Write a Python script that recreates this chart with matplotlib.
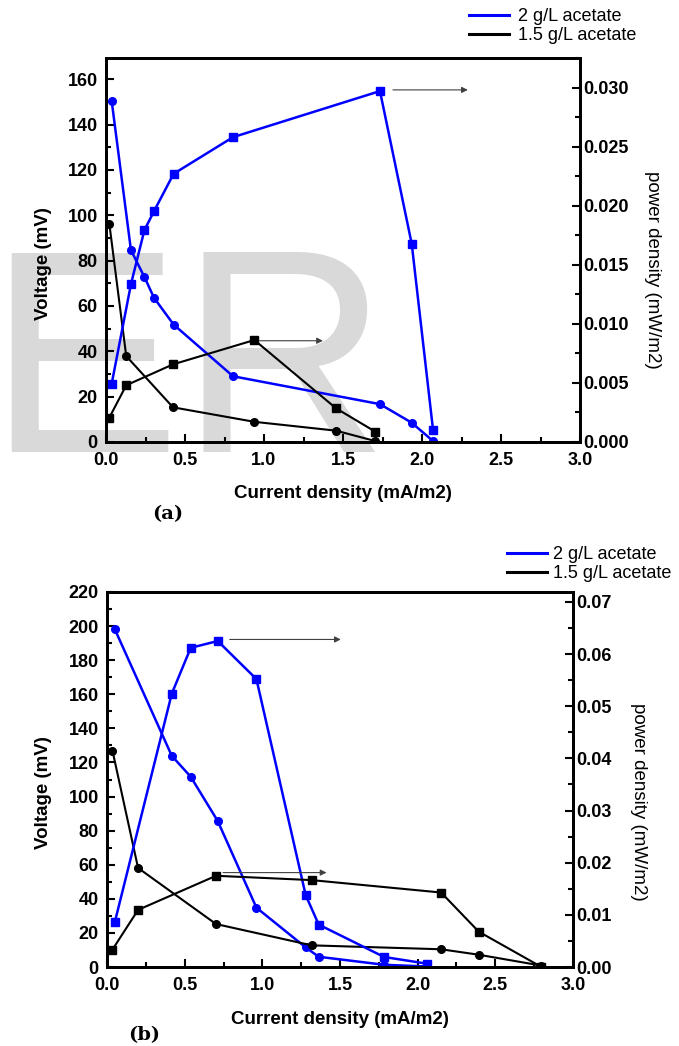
import numpy as np
import matplotlib
matplotlib.use('Agg')
from matplotlib import pyplot as plt
from matplotlib.lines import Line2D
from matplotlib.ticker import MultipleLocator, FormatStrFormatter

plt.rcParams['font.family'] = ['Liberation Sans', 'DejaVu Sans']

# ---- data, panel (a) ----
cd_a_2 = [0.036, 0.158, 0.243, 0.304, 0.428, 0.804, 1.734, 1.935, 2.07]
volt_a_2 = [150.4, 84.6, 72.8, 63.6, 51.8, 29.0, 16.7, 8.5, 0.4]
pow_a_2 = [0.00493, 0.01336, 0.01793, 0.01954, 0.0227, 0.0258, 0.0297, 0.01677, 0.00101]

cd_a_15 = [0.021, 0.128, 0.424, 0.939, 1.456, 1.705]
volt_a_15 = [96.3, 37.9, 15.3, 8.9, 5.0, 0.4]
pow_a_15 = [0.00206, 0.0048, 0.00657, 0.00863, 0.00285, 0.00087]

# ---- data, panel (b) ----
cd_b_2 = [0.05, 0.417, 0.539, 0.713, 0.962, 1.279, 1.363, 1.784, 2.059]
volt_b_2 = [198.2, 123.9, 111.6, 85.6, 34.8, 11.5, 6.0, 1.3, 0.3]
pow_b_2 = [0.00858, 0.0524, 0.0612, 0.0625, 0.0552, 0.01378, 0.00813, 0.00192, 0.00064]

cd_b_15 = [0.035, 0.2, 0.702, 1.318, 2.151, 2.393, 2.797]
volt_b_15 = [127.0, 58.1, 25.2, 12.7, 10.4, 7.2, 0.8]
pow_b_15 = [0.00333, 0.01095, 0.01749, 0.01666, 0.01428, 0.00678, 0.0]

series_labels = ['2 g/L acetate', '1.5 g/L acetate']
xlabel = 'Current density (mA/m2)'
ylabel = 'Voltage (mV)'
y2label = 'power density (mW/m2)'

BLUE = '#0000ff'
W, H = 679, 1046

def fx(px):
    return px / W

def fy(py):
    return 1 - py / H

fig = plt.figure(figsize=(6.79, 10.46), dpi=100)

# watermark behind the top chart
fig.text(fx(-13), fy(452), 'ER', fontsize=208, color='#d9d9d9',
         family='Liberation Sans', ha='left', va='baseline', zorder=-10)


def panel(rect, cd2, v2, p2, cd15, v15, p15, ylim, y2lim, ymaj, y2maj, y2fmt, arrows):
    ax = fig.add_axes(rect)
    ax.set_facecolor('none')
    ax2 = ax.twinx()
    # voltage (circles)
    ax.plot(cd2, v2, color=BLUE, lw=1.8, marker='o', ms=5.5)
    ax.plot(cd15, v15, color='black', lw=1.5, marker='o', ms=5.5)
    # power density (squares)
    ax2.plot(cd2, p2, color=BLUE, lw=1.8, marker='s', ms=5.5)
    ax2.plot(cd15, p15, color='black', lw=1.5, marker='s', ms=5.5)
    ax.set_xlim(0, 3.0)
    ax.set_ylim(*ylim)
    ax2.set_ylim(*y2lim)
    ax.xaxis.set_major_locator(MultipleLocator(0.5))
    ax.xaxis.set_minor_locator(MultipleLocator(0.25))
    ax.xaxis.set_major_formatter(FormatStrFormatter('%.1f'))
    ax.yaxis.set_major_locator(MultipleLocator(ymaj))
    ax.yaxis.set_minor_locator(MultipleLocator(ymaj / 2))
    ax2.yaxis.set_major_locator(MultipleLocator(y2maj))
    ax2.yaxis.set_minor_locator(MultipleLocator(y2maj / 2))
    ax2.yaxis.set_major_formatter(FormatStrFormatter(y2fmt))
    for a in (ax, ax2):
        for s in a.spines.values():
            s.set_linewidth(2)
    ax.tick_params(which='both', direction='in', width=1.5, top=False, right=False)
    ax.tick_params(which='major', length=6)
    ax.tick_params(which='minor', length=3.5)
    ax.tick_params(axis='y', pad=6)
    ax.tick_params(axis='x', pad=7)
    ax2.tick_params(which='both', direction='in', width=1.5)
    ax2.tick_params(which='major', length=6, pad=2)
    ax2.tick_params(which='minor', length=3.5)
    for lab in ax.get_xticklabels() + ax.get_yticklabels() + ax2.get_yticklabels():
        lab.set_fontsize(13)
        lab.set_fontweight('bold')
    for (x0, x1, yv) in arrows:
        ax2.annotate('', xy=(x1, yv), xytext=(x0, yv),
                     arrowprops=dict(arrowstyle='-|>', color='#404040', lw=0.8,
                                     mutation_scale=9, shrinkA=0, shrinkB=0))
    return ax, ax2


# panel (a)
panel([fx(106), fy(442), fx(580) - fx(106), fy(58) - fy(442)],
      cd_a_2, volt_a_2, pow_a_2, cd_a_15, volt_a_15, pow_a_15,
      (0, 169.4), (0, 0.0325), 20, 0.005, '%.3f',
      [(1.816, 2.29, 0.0298), (0.97, 1.373, 0.00857)])

# panel (b)
panel([fx(107), fy(967), fx(573) - fx(107), fy(592) - fy(967)],
      cd_b_2, volt_b_2, pow_b_2, cd_b_15, volt_b_15, pow_b_15,
      (0, 220), (0, 0.0719), 20, 0.01, '%.2f',
      [(0.79, 1.505, 0.0628), (0.747, 1.413, 0.0181)])

# axis titles
bold = dict(fontsize=13.5, fontweight='bold', ha='center', va='center')
fig.text(fx(343), fy(494), xlabel, **bold)
fig.text(fx(340), fy(1020), xlabel, **bold)
fig.text(fx(43), fy(264), ylabel, rotation=90, **bold)
fig.text(fx(44), fy(793), ylabel, rotation=90, **bold)
fig.text(fx(653), fy(270), y2label, rotation=-90, fontsize=13.5, ha='center', va='center')
fig.text(fx(639), fy(802), y2label, rotation=-90, fontsize=13.5, ha='center', va='center')

# panel letters
fig.text(fx(168), fy(514), '(a)', fontsize=14, fontweight='bold',
         family='DejaVu Serif', ha='center', va='center')
fig.text(fx(144), fy(1035), '(b)', fontsize=14, fontweight='bold',
         family='DejaVu Serif', ha='center', va='center')

# legends
handles = [Line2D([], [], color=BLUE, lw=2.2), Line2D([], [], color='black', lw=2.2)]
fig.legend(handles, series_labels, loc='upper left', bbox_to_anchor=(fx(469), fy(8)),
           frameon=False, fontsize=13, handlelength=2.2, handletextpad=0.5,
           labelspacing=0.12, borderpad=0, borderaxespad=0)
fig.legend(handles, series_labels, loc='upper left', bbox_to_anchor=(fx(507), fy(546)),
           frameon=False, fontsize=13, handlelength=2.2, handletextpad=0.35,
           labelspacing=0.12, borderpad=0, borderaxespad=0)

fig.savefig('out.png', dpi=100)
